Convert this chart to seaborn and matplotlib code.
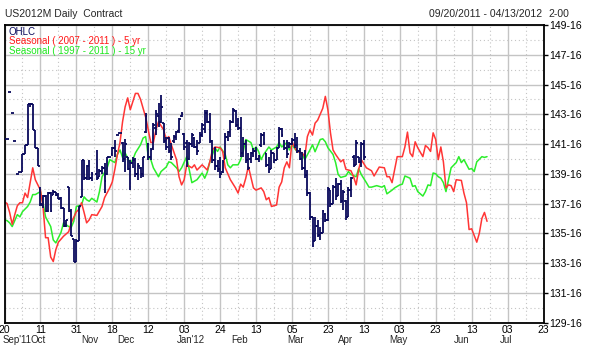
import matplotlib
matplotlib.use("Agg")
import matplotlib.pyplot as plt
import numpy as np
import pandas as pd
import seaborn as sns

# ---- data (x = trading-day index from 09/20/2011) ----
bar_day = [1, 2, 3, 4, 5, 6, 7, 8, 9, 10, 11, 12, 13, 14, 15, 16, 17, 18, 19, 20,
           21, 22, 23, 24, 25, 26, 27, 28, 29, 30, 31, 32, 33, 34, 36, 37, 38, 39, 40, 41,
           42, 43, 44, 45, 46, 47, 48, 49, 50, 51, 52, 53, 54, 55, 56, 57, 58, 59, 60, 61,
           62, 63, 64, 65, 66, 67, 68, 69, 70, 71, 72, 73, 74, 75, 76, 77, 78, 79, 80, 81,
           82, 83, 84, 85, 86, 87, 88, 89, 90, 91, 92, 93, 94, 95, 96, 97, 98, 99, 100, 101,
           102, 103, 104, 105, 106, 107, 108, 109, 110, 111, 112, 113, 114, 115, 116, 117, 118, 119, 120, 121,
           122, 123, 124, 125, 126, 127, 128, 129, 130, 131, 132, 133, 134, 135, 136, 137, 138, 139, 140]
bar_open = [141.85, 145.0, 143.6, 141.7, 139.5, 139.6, 139.6, 140.85, 141.45, 144.2, 144.2, 142.45, 141.24, 138.5, 137.4, 138.0, 137.0, 138.2, 138.1, 138.3,
            138.1, 137.9, 137.2, 136.0, 138.6, 137.0, 135.1, 133.6, 135.0, 137.95, 140.4, 139.2, 140.0, 139.2, 139.5, 139.3, 139.7, 139.9, 139.5, 140.6,
            140.8, 141.2, 142.1, 142.25, 141.6, 140.5, 140.6, 139.8, 140.2, 140.4, 139.5, 139.9, 139.5, 142.3, 141.5, 140.6, 141.2, 142.6, 143.4, 143.0,
            142.9, 141.7, 141.9, 141.0, 141.7, 142.0, 142.4, 143.4, 142.2, 141.6, 140.5, 141.5, 141.9, 141.3, 141.6, 142.1, 142.5, 143.6, 143.0, 141.7,
            140.4, 140.0, 139.8, 139.6, 140.5, 142.0, 142.3, 143.0, 143.7, 142.8, 142.6, 140.9, 141.5, 140.4, 140.5, 140.9, 141.0, 140.5, 141.4, 142.1,
            140.9, 140.1, 139.8, 140.9, 140.4, 141.2, 142.5, 141.7, 141.2, 141.3, 141.5, 141.8, 141.4, 141.0, 140.5, 139.9, 139.4, 138.2, 136.6, 135.0,
            136.0, 135.4, 135.5, 136.8, 136.4, 138.4, 137.5, 138.6, 138.0, 138.8, 137.7, 137.7, 136.6, 138.4, 140.6, 140.1, 140.6, 140.3, 141.5]
bar_high = [141.85, 145.0, 143.6, 141.7, 139.5, 139.6, 140.85, 141.45, 144.2, 144.25, 144.2, 142.45, 141.24, 138.6, 138.1, 138.1, 138.25, 138.3, 138.4, 138.3,
            138.2, 137.95, 137.2, 136.4, 138.6, 137.1, 135.1, 135.1, 137.3, 140.45, 140.45, 140.1, 140.45, 139.6, 141.1, 139.8, 140.0, 140.24, 140.6, 140.6,
            141.3, 141.8, 142.1, 142.25, 141.65, 141.85, 140.64, 140.44, 140.6, 140.57, 140.24, 139.97, 140.64, 143.6, 141.58, 141.2, 142.9, 143.8, 144.26, 144.8,
            142.92, 142.0, 141.98, 141.58, 142.12, 142.4, 143.26, 143.66, 142.25, 141.78, 141.65, 142.25, 142.0, 141.78, 142.32, 142.92, 143.8, 143.8, 143.6, 141.78,
            141.31, 140.4, 140.64, 140.44, 142.25, 142.4, 143.12, 143.93, 143.8, 143.26, 143.33, 141.98, 141.78, 140.91, 140.98, 141.2, 141.31, 140.78, 142.25, 142.32,
            140.91, 140.64, 141.11, 140.91, 141.31, 142.65, 142.59, 141.78, 141.78, 141.65, 141.9, 142.25, 141.98, 141.24, 140.98, 141.11, 139.77, 138.3, 136.6, 136.6,
            136.41, 135.94, 137.08, 136.88, 138.63, 138.43, 138.76, 139.23, 138.9, 139.1, 138.43, 137.76, 138.63, 139.3, 140.78, 141.78, 140.64, 141.65, 141.78]
bar_low = [141.85, 145.0, 143.6, 141.7, 139.5, 139.6, 139.6, 140.85, 141.45, 144.0, 142.45, 141.24, 140.04, 137.3, 137.2, 136.95, 136.95, 136.95, 138.1, 138.0,
           137.8, 137.1, 135.95, 135.95, 136.9, 135.3, 133.6, 133.6, 135.0, 137.95, 139.1, 139.1, 139.1, 139.0, 139.1, 139.3, 139.5, 138.23, 139.4, 140.6,
           140.7, 140.64, 142.1, 142.25, 140.3, 139.63, 139.77, 138.43, 139.9, 139.3, 139.1, 139.23, 139.3, 142.25, 140.44, 140.4, 141.1, 142.1, 142.65, 142.9,
           141.58, 141.1, 140.91, 140.44, 141.6, 141.8, 142.25, 143.33, 141.11, 139.97, 140.44, 141.31, 141.2, 140.78, 141.58, 141.98, 142.25, 142.92, 141.58, 140.24,
           139.77, 139.6, 139.23, 139.57, 140.5, 141.7, 141.98, 142.92, 142.65, 142.45, 140.64, 140.64, 140.24, 139.77, 140.24, 140.6, 140.44, 140.31, 141.31, 141.45,
           139.97, 139.57, 139.8, 140.24, 140.4, 141.2, 141.98, 141.11, 140.57, 141.24, 141.4, 141.24, 140.91, 140.44, 139.77, 139.23, 138.0, 136.4, 134.6, 135.0,
           135.27, 135.07, 135.5, 136.28, 136.3, 137.28, 137.5, 137.76, 138.0, 137.55, 137.08, 136.41, 136.6, 137.96, 139.97, 140.1, 140.24, 139.97, 140.44]
bar_close = [141.85, 145.0, 143.6, 141.7, 139.5, 139.6, 140.85, 141.45, 144.2, 144.2, 142.45, 141.24, 140.04, 137.5, 138.0, 137.0, 138.2, 137.0, 138.3, 138.1,
             137.8, 137.2, 136.0, 136.4, 137.0, 135.3, 133.6, 135.0, 137.3, 140.4, 139.2, 140.0, 139.2, 139.5, 139.2, 139.7, 139.9, 139.0, 140.6, 140.6,
             141.2, 141.0, 142.1, 142.25, 140.5, 141.5, 139.8, 140.2, 140.4, 139.5, 140.0, 139.4, 140.6, 143.4, 140.6, 141.1, 142.8, 143.5, 143.0, 144.0,
             141.7, 141.3, 141.0, 140.6, 142.0, 142.3, 143.2, 143.5, 141.3, 140.2, 141.5, 142.1, 141.3, 141.0, 142.1, 142.8, 143.6, 143.0, 141.7, 140.4,
             140.0, 139.8, 139.5, 140.3, 142.0, 142.3, 143.0, 143.8, 142.8, 142.6, 140.9, 141.5, 140.4, 139.9, 140.9, 141.0, 140.5, 140.7, 142.1, 141.6,
             140.1, 139.8, 140.9, 140.4, 141.2, 142.5, 142.1, 141.2, 140.8, 141.5, 141.8, 141.4, 141.0, 140.5, 139.9, 139.4, 138.2, 136.6, 135.0, 136.0,
             135.4, 135.5, 137.0, 136.4, 138.5, 137.5, 138.6, 138.0, 138.8, 137.7, 138.3, 136.6, 138.4, 139.2, 140.1, 141.6, 140.3, 141.5, 140.6]

red_day = [0, 1, 2, 3, 4, 5, 6, 7, 8, 9, 11, 12, 14, 15, 16, 17, 18, 19, 20, 21,
           23, 25, 26, 28, 29, 30, 31, 32, 33, 34, 36, 38, 39, 41, 42, 43, 44, 45, 46, 47,
           48, 49, 51, 52, 53, 55, 56, 57, 58, 59, 60, 62, 63, 64, 65, 67, 68, 69, 70, 71,
           73, 74, 75, 77, 79, 80, 81, 82, 84, 85, 86, 88, 90, 91, 92, 93, 94, 95, 97, 98,
           100, 101, 102, 103, 104, 106, 107, 108, 109, 110, 111, 112, 113, 114, 116, 117, 118, 119, 120, 121,
           122, 124, 125, 126, 127, 128, 129, 131, 132, 133, 135, 136, 137, 138, 139, 141, 143, 144, 146, 148,
           149, 150, 151, 153, 155, 156, 157, 158, 159, 160, 161, 163, 164, 165, 166, 167, 168, 169, 170, 171,
           172, 173, 174, 175, 176, 178, 179, 180, 181, 182, 184, 185, 186, 187, 188]
red_val = [137.6, 137.5, 136.9, 136.1, 136.75, 137.35, 137.55, 137.55, 138.2, 137.9, 139.9, 139.1, 138.4, 137.3, 135.2, 135.2, 133.9, 133.6, 134.4, 134.9,
           135.3, 135.6, 136.2, 136.95, 137.1, 137.55, 136.9, 136.2, 136.4, 136.75, 136.7, 137.3, 137.9, 138.55, 138.95, 139.8, 140.8, 141.6, 143.0, 144.0,
           144.6, 143.8, 144.9, 144.9, 144.5, 143.3, 142.45, 141.6, 141.6, 142.45, 143.0, 142.45, 141.8, 142.0, 141.45, 140.45, 139.3, 138.75, 139.1, 140.1,
           139.9, 140.1, 139.75, 140.1, 139.75, 140.3, 141.1, 141.3, 141.25, 141.0, 139.9, 139.1, 138.55, 138.2, 138.8, 138.6, 139.2, 140.0, 138.55, 138.4,
           138.55, 138.3, 137.75, 137.9, 137.3, 137.4, 138.6, 138.95, 139.9, 140.3, 139.9, 141.65, 141.3, 141.0, 140.9, 140.65, 142.0, 142.45, 142.1, 142.9,
           143.1, 143.9, 144.7, 143.8, 142.25, 141.1, 140.8, 140.3, 140.45, 139.8, 139.7, 139.3, 138.75, 139.8, 140.45, 139.9, 139.7, 139.35, 139.95, 139.9,
           139.3, 139.3, 138.9, 140.65, 140.65, 141.3, 142.3, 140.9, 140.65, 141.65, 141.25, 140.65, 141.4, 141.25, 141.0, 142.25, 141.8, 140.45, 141.3, 140.3,
           138.55, 138.75, 138.7, 138.3, 139.1, 139.05, 138.2, 137.55, 135.75, 135.8, 134.9, 135.5, 136.5, 136.9, 136.3]

green_day = [0, 1, 2, 3, 5, 6, 7, 9, 10, 11, 12, 14, 15, 16, 18, 19, 20, 21, 22, 23,
             25, 26, 27, 28, 30, 31, 32, 33, 34, 36, 37, 38, 40, 41, 43, 44, 45, 46, 47, 49,
             50, 51, 53, 54, 55, 56, 57, 58, 60, 61, 63, 64, 65, 67, 68, 69, 71, 72, 73, 75,
             77, 78, 79, 80, 82, 83, 84, 86, 87, 88, 89, 91, 92, 93, 94, 96, 97, 98, 99, 100,
             101, 103, 104, 106, 107, 108, 110, 111, 112, 114, 115, 116, 117, 119, 120, 121, 123, 124, 125, 126,
             128, 129, 130, 131, 133, 134, 135, 137, 138, 139, 141, 142, 143, 145, 147, 148, 149, 151, 152, 154,
             155, 156, 158, 159, 160, 161, 163, 164, 165, 166, 167, 168, 169, 170, 171, 172, 173, 174, 176, 177,
             178, 179, 181, 182, 183, 184, 186, 187, 188]
green_val = [136.4, 136.35, 136.2, 135.95, 136.75, 136.6, 136.95, 137.3, 137.6, 138.1, 138.1, 138.3, 137.55, 136.6, 135.95, 135.05, 134.85, 135.2, 135.55, 136.2,
             135.95, 135.9, 136.3, 137.3, 137.4, 137.95, 137.75, 137.65, 137.85, 137.6, 138.3, 139.3, 139.9, 140.45, 140.25, 140.8, 141.1, 140.6, 140.9, 140.2,
             140.45, 140.9, 141.45, 141.9, 142.0, 140.65, 140.45, 139.9, 139.3, 139.65, 139.95, 140.3, 140.25, 139.9, 139.65, 139.9, 140.65, 139.75, 138.9, 139.1,
             139.55, 139.2, 139.6, 140.3, 141.25, 141.0, 141.3, 140.8, 140.1, 139.9, 140.1, 140.1, 140.45, 141.0, 141.8, 141.6, 141.1, 141.3, 141.0, 140.45,
             140.8, 141.3, 141.1, 141.3, 141.6, 141.3, 141.6, 141.1, 141.45, 140.98, 140.98, 140.8, 140.45, 141.1, 141.45, 140.98, 141.8, 141.85, 141.65, 141.25,
             140.8, 140.25, 139.45, 139.25, 139.35, 139.65, 139.45, 139.3, 139.85, 139.45, 138.9, 138.6, 138.6, 138.7, 138.6, 138.7, 138.15, 138.4, 138.55, 138.75,
             138.8, 139.35, 139.2, 138.65, 138.7, 138.3, 138.0, 138.3, 138.75, 138.7, 139.55, 139.5, 139.3, 139.2, 138.9, 138.3, 139.1, 139.9, 140.25, 140.65,
             140.25, 140.45, 139.8, 139.85, 139.65, 140.3, 140.65, 140.6, 140.65]

tick_days = [0, 14, 28, 42, 56, 70, 84, 98, 112, 126, 140, 154, 168, 182, 196, 210]
tick_labels = ["20", "11", "31", "18", "12", "03", "24", "13", "05", "23", "13", "03", "23", "13", "03", "23"]
month_days = [-0.6, 10.3, 30, 44, 67, 88.5, 110, 130, 150, 175, 193]
month_labels = ["Sep'11", "Oct", "Nov", "Dec", "Jan'12", "Feb", "Mar", "Apr", "May", "Jun", "Jul"]
price_ticks = [129.5, 131.5, 133.5, 135.5, 137.5, 139.5, 141.5, 143.5, 145.5, 147.5, 149.5]

NAVY = "#0a0a5c"
RED = "#ff3535"
GREEN = "#2bee2b"

sns.set_style("white")
plt.rcParams['font.family'] = ['Liberation Sans Narrow', 'Liberation Sans', 'DejaVu Sans']

fig = plt.figure(figsize=(5.95, 3.55), dpi=100)
ax = fig.add_axes([4.5 / 595, 1 - 322.5 / 355, 539 / 595, 297.5 / 355])

# grid
ax.set_xlim(0, 210)
ax.set_ylim(129.5, 149.5)
ax.set_xticks(tick_days)
ax.set_xticks([d + 7 for d in tick_days[:-1]], minor=True)
ax.set_yticks(price_ticks)
ax.set_yticks([p + 1 for p in price_ticks[:-1]], minor=True)
ax.grid(which="major", color="#c4c4c4", lw=1.0, ls="-")
ax.grid(which="minor", color="#c4c4c4", lw=0.8, ls=(0, (1, 2.5)))
ax.set_axisbelow(True)

# seasonal lines
red_df = pd.DataFrame({"day": red_day, "price": red_val})
green_df = pd.DataFrame({"day": green_day, "price": green_val})
sns.lineplot(data=green_df, x="day", y="price", color=GREEN, lw=1.1, estimator=None, ax=ax)
sns.lineplot(data=red_df, x="day", y="price", color=RED, lw=1.1, estimator=None, ax=ax)

# OHLC bars
d = np.array(bar_day, dtype=float)
ax.vlines(d, bar_low, bar_high, color=NAVY, lw=1.3, zorder=5)
ax.hlines(bar_open, d - 0.65, d, color=NAVY, lw=1.3, zorder=5)
ax.hlines(bar_close, d, d + 0.65, color=NAVY, lw=1.3, zorder=5)

# axes styling
for s in ax.spines.values():
    s.set_color("black")
    s.set_linewidth(1.3)
ax.yaxis.tick_right()
ax.set_yticklabels([f"{int(p)}-16" for p in price_ticks])
ax.set_xticklabels(tick_labels)
ax.tick_params(axis="y", which="major", direction="out", length=3, width=1, pad=1,
               labelsize=7.5, colors="black")
ax.tick_params(axis="x", which="major", length=0, pad=2, labelsize=7.5, colors="black")
ax.tick_params(which="minor", length=0)
ax.set_xlabel("")
ax.set_ylabel("")

trans = ax.get_xaxis_transform()
for md, ml in zip(month_days, month_labels):
    ax.text(md, -0.043, ml, transform=trans, ha="left", va="top", fontsize=7)

# header + legend
fig.text(5 / 595, 1 - 17 / 355, "US2012M Daily  Contract", fontsize=7.5, va="baseline")
fig.text(542 / 595, 1 - 17 / 355, "09/20/2011 - 04/13/2012", fontsize=7.5, va="baseline", ha="right")
fig.text(569 / 595, 1 - 17 / 355, "2-00", fontsize=7.5, va="baseline", ha="right")
ax.text(0.008, 0.993, "OHLC", color=NAVY, transform=ax.transAxes, fontsize=7, va="top")
ax.text(0.008, 0.962, "Seasonal ( 2007 - 2011 ) - 5 yr", color="#ff1a1a", transform=ax.transAxes, fontsize=7, va="top")
ax.text(0.008, 0.931, "Seasonal ( 1997 - 2011 ) - 15 yr", color="#1ee81e", transform=ax.transAxes, fontsize=7, va="top")

fig.savefig("out.png", dpi=100)
